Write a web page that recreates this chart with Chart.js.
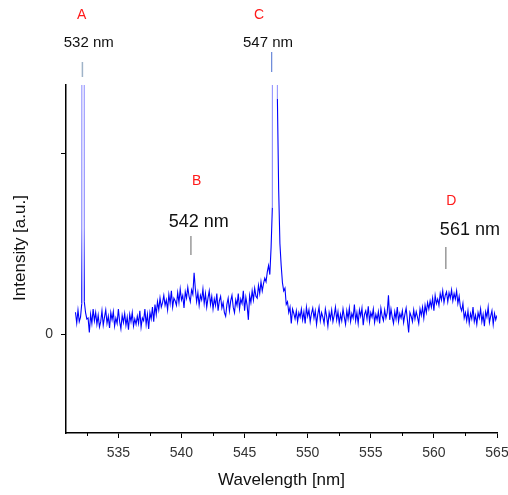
<!DOCTYPE html>
<html><head><meta charset="utf-8">
<script src="https://cdn.jsdelivr.net/npm/chart.js@4"></script>
<style>html,body{margin:0;padding:0;background:#fff;}#wrap{width:508px;height:495px;position:relative}</style>
</head><body><div id="wrap"><canvas id="c" width="508" height="495"></canvas></div>
<script>
// ---- data ----
const startNm = 531.6;   // first sample wavelength
const stepNm = 0.1;      // sample spacing
const intensity = [
  122, 62, 134, 70, 95, 170, 30000, 180, 120, 85,
  90, 10, 110, 60, 140, 75, 120, 55, 105, 40,
  70, 130, 50, 95, 135, 60, 100, 35, 120, 80,
  125, 45, 90, 60, 140, 70, 30, 105, 65, 115,
  50, 95, 25, 110, 70, 120, 45, 85, 55, 100,
  60, 130, 40, 90, 75, 140, 55, 110, 30, 120,
  85, 150, 70, 165, 110, 180, 135, 200, 150, 175,
  215, 160, 190, 135, 220, 170, 240, 150, 200, 185,
  160, 230, 175, 250, 190, 215, 145, 235, 200, 260,
  210, 180, 245, 220, 340, 250, 180, 230, 160, 215,
  190, 250, 170, 225, 150, 200, 240, 165, 210, 140,
  195, 160, 225, 130, 185, 210, 145, 175, 120, 100,
  165, 200, 130, 185, 215, 150, 120, 190, 160, 225,
  140, 195, 170, 240, 130, 205, 160, 80, 215, 175,
  240, 190, 255, 210, 200, 270, 225, 290, 240, 280,
  310, 290, 345, 380, 330, 480, 700, 20000, 20000, 20000,
  1300, 800, 500, 380, 285, 240, 255, 165, 180, 120,
  150, 60, 140, 115, 85, 130, 70, 120, 95, 140,
  80, 125, 60, 150, 100, 135, 70, 115, 145, 90,
  130, 55, 110, 150, 75, 120, 95, 60, 140, 100,
  45, 120, 85, 135, 70, 105, 150, 80, 125, 60,
  110, 75, 140, 95, 55, 130, 85, 145, 70, 115,
  90, 165, 75, 120, 60, 135, 100, 145, 50, 110,
  130, 85, 155, 70, 120, 95, 140, 65, 110, 80,
  125, 60, 145, 100, 75, 135, 90, 120, 215, 80,
  140, 95, 60, 125, 85, 150, 70, 115, 90, 130,
  65, 110, 145, 80, 10, 120, 100, 70, 135, 85,
  125, 95, 60, 140, 105, 150, 90, 160, 120, 175,
  140, 185, 150, 200, 130, 215, 170, 195, 160, 225,
  190, 240, 175, 215, 235, 180, 230, 200, 245, 185,
  225, 195, 240, 170, 210, 150, 130, 170, 90, 120,
  75, 130, 60, 115, 85, 150, 70, 105, 55, 120,
  90, 140, 70, 110, 45, 125, 95, 150, 65, 100,
  130, 55, 115, 80, 105
];
const xTicks = [535, 540, 545, 550, 555, 560, 565];
const xMinorTicks = [532.5, 537.5, 542.5, 547.5, 552.5, 557.5, 562.5];
const yTicks = [0, 1000];
const peakLetters = ['A', 'B', 'C', 'D'];
const peakNames = ['532 nm', '542 nm', '547 nm', '561 nm'];
const peakNm = [532.15, 540.75, 547.15, 560.95];

const FONT = "'Liberation Sans', Arial, sans-serif";
const Y_MAX = 1377;

const points = intensity.map((v, i) => ({ x: +(startNm + i * stepNm).toFixed(2), y: v }));

// annotation layout (pixel offsets relative to the marked wavelength)
const annStyle = [
  { letterDx: -0.7, letterY: 15, nameDx: 6.3, nameY: 43, nameSize: 15, markTop: 62, markBot: 77, markColor: '#9fb3c8', markW: 1.5 },
  { letterDx: 5.8, letterY: 181, nameDx: 7.8, nameY: 222.5, nameSize: 18, markTop: 236, markBot: 255, markColor: '#666', markW: 1 },
  { letterDx: -12.7, letterY: 15, nameDx: -3.7, nameY: 43, nameSize: 15, markTop: 52, markBot: 72, markColor: '#4a6fd0', markW: 1 },
  { letterDx: 5.5, letterY: 201, nameDx: 24, nameY: 230, nameSize: 18, markTop: 247, markBot: 269, markColor: '#666', markW: 1 }
];

let spikeGradient = null;
function spikeColor(chart) {
  if (!spikeGradient) {
    const a = chart.chartArea || { top: 85, bottom: 433 };
    const ys = chart.scales.y;
    const yLow = ys ? ys.getPixelForValue(250) : 290;
    spikeGradient = chart.ctx.createLinearGradient(0, a.top, 0, yLow);
    spikeGradient.addColorStop(0, '#9494ff');
    spikeGradient.addColorStop(0.7, '#8080ff');
    spikeGradient.addColorStop(1, '#0000ff');
  }
  return spikeGradient;
}

const extras = {
  id: 'extras',
  afterDraw(chart) {
    const { ctx, chartArea } = chart;
    const xs = chart.scales.x;
    ctx.save();
    // minor ticks
    ctx.strokeStyle = '#000';
    ctx.lineWidth = 1;
    xMinorTicks.forEach(v => {
      const x = Math.round(xs.getPixelForValue(v)) + 0.5;
      ctx.beginPath();
      ctx.moveTo(x, chartArea.bottom);
      ctx.lineTo(x, chartArea.bottom + 3);
      ctx.stroke();
    });
    // axis titles
    ctx.fillStyle = '#111';
    ctx.font = '17px ' + FONT;
    ctx.textAlign = 'center';
    ctx.textBaseline = 'middle';
    ctx.fillText('Wavelength [nm]', (chartArea.left + chartArea.right) / 2, 480);
    ctx.save();
    ctx.translate(20, (chartArea.top + chartArea.bottom) / 2 - 11);
    ctx.rotate(-Math.PI / 2);
    ctx.fillText('Intensity [a.u.]', 0, 0);
    ctx.restore();
    // peak annotations
    peakNm.forEach((nm, i) => {
      const s = annStyle[i];
      const x = xs.getPixelForValue(nm);
      ctx.fillStyle = '#ff1a1a';
      ctx.font = '14px ' + FONT;
      ctx.fillText(peakLetters[i], x + s.letterDx, s.letterY);
      ctx.fillStyle = '#111';
      ctx.font = s.nameSize + 'px ' + FONT;
      ctx.fillText(peakNames[i], x + s.nameDx, s.nameY);
      ctx.strokeStyle = s.markColor;
      ctx.lineWidth = s.markW;
      ctx.beginPath();
      ctx.moveTo(x, s.markTop);
      ctx.lineTo(x, s.markBot);
      ctx.stroke();
    });
    ctx.restore();
  }
};

new Chart(document.getElementById('c'), {
  type: 'line',
  data: {
    datasets: [{
      data: points,
      borderColor: '#0000ff',
      borderWidth: 1.1,
      pointRadius: 0,
      tension: 0,
      fill: false,
      segment: {
        borderColor: ctx => (ctx.p0.parsed.y > Y_MAX || ctx.p1.parsed.y > Y_MAX) ? spikeColor(ctx.chart) : undefined
      }
    }]
  },
  options: {
    responsive: false,
    animation: false,
    devicePixelRatio: 1,
    layout: { padding: { top: 85, right: 11, bottom: 0, left: 0 } },
    plugins: { legend: { display: false }, tooltip: { enabled: false } },
    scales: {
      x: {
        type: 'linear',
        min: 530.85,
        max: 565,
        afterBuildTicks: s => { s.ticks = xTicks.map(v => ({ value: v })); },
        ticks: { font: { size: 14, family: FONT }, color: '#333', padding: 7, maxRotation: 0, autoSkip: false },
        grid: { drawOnChartArea: false, drawTicks: true, tickLength: 5, tickColor: '#000', tickWidth: 1 },
        border: { display: true, color: '#000', width: 1.5 },
        afterFit: s => { s.height = 62; s.paddingLeft = 0; s.paddingRight = 0; }
      },
      y: {
        type: 'linear',
        min: -545,
        max: Y_MAX,
        afterBuildTicks: s => { s.ticks = yTicks.map(v => ({ value: v })); },
        ticks: { callback: v => (v === 0 ? '0' : ''), font: { size: 14, family: FONT }, color: '#333', padding: 8 },
        grid: { drawOnChartArea: false, drawTicks: true, tickLength: 5, tickColor: '#000', tickWidth: 1 },
        border: { display: true, color: '#000', width: 1.5 },
        afterFit: s => { s.width = 66; }
      }
    }
  },
  plugins: [extras]
});
</script>
</body></html>
